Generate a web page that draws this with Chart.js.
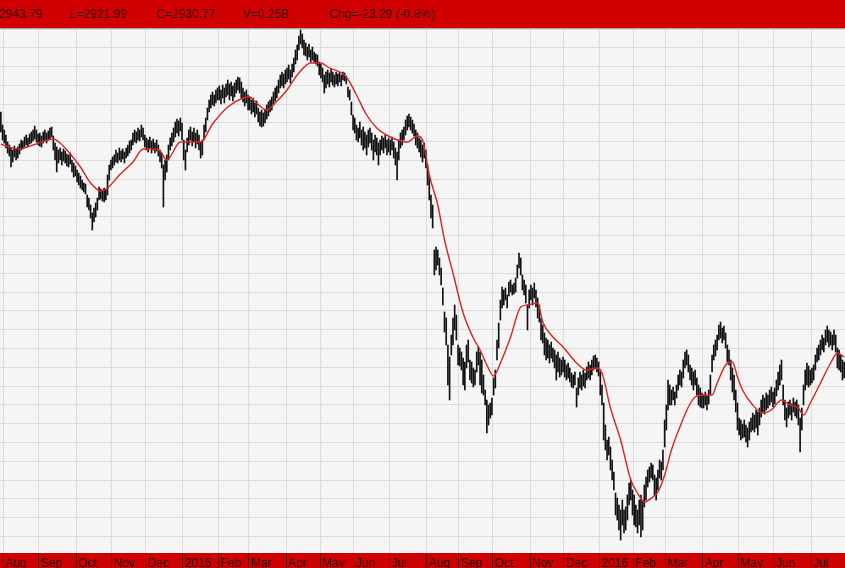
<!DOCTYPE html>
<html>
<head>
<meta charset="utf-8">
<script src="https://cdn.jsdelivr.net/npm/chart.js@4.4.1/dist/chart.umd.min.js"></script>
<style>
  body { margin: 0; overflow: hidden; background: #f5f5f5; font-family: "Liberation Sans", Arial, sans-serif; }
  #quote { width: 845px; height: 28px; background: #d00000; border-bottom: 1px solid #a8a8a8; overflow: hidden; white-space: nowrap; font-size: 12px; line-height: 29px; color: #3c0000; }
  #quote span { display: inline-block; width: 86.5px; }
  #quote span:first-child { margin-left: -17px; }
  #wrap { position: relative; width: 845px; height: 539px; background: #cc0000; }
</style>
</head>
<body>
<div id="quote"></div>
<div id="wrap"><canvas id="chart"></canvas></div>
<script>
const quoteLabels = ['H', 'L', 'C', 'V', 'Chg']
const quoteValues = ['2943.79', '2921.99', '2930.77', '0.25B', '-23.29 (-0.8%)']

// first trading day (bar index) of each month shown in the bottom band
const monthStarts = [2, 23, 45, 66, 86, 108, 129, 147, 169, 189, 209, 230, 252, 271, 291, 313, 333, 354, 374, 393, 415, 436, 457, 479]
const monthLabels = ['Aug', 'Sep', 'Oct', 'Nov', 'Dec', '2015', 'Feb', 'Mar', 'Apr', 'May', 'Jun', 'Jul',
  'Aug', 'Sep', 'Oct', 'Nov', 'Dec', '2016', 'Feb', 'Mar', 'Apr', 'May', 'Jun', 'Jul']

// daily highs, one line per month (Jul 2014 tail .. Jul 2016)
const highs = [
  3406, 3380,
  3370, 3360, 3346, 3340, 3334, 3330, 3338, 3332, 3336, 3342, 3350, 3348, 3356, 3360, 3354, 3362, 3366, 3370, 3378, 3370, 3362,
  3364, 3358, 3366, 3370, 3364, 3368, 3374, 3376, 3358, 3344, 3336, 3330, 3334, 3326, 3332, 3328, 3322, 3320, 3324, 3310, 3304, 3298,
  3290, 3284, 3278, 3270, 3264, 3262, 3240, 3234, 3220, 3204, 3214, 3224, 3234, 3256, 3252, 3250, 3254, 3250, 3280, 3300, 3310,
  3316, 3320, 3330, 3324, 3334, 3328, 3332, 3326, 3334, 3340, 3348, 3350, 3364, 3370, 3366, 3374, 3370, 3380, 3374, 3360,
  3354, 3350, 3356, 3348, 3352, 3344, 3350, 3340, 3330, 3324, 3300, 3310, 3320, 3340, 3354, 3364, 3374, 3386, 3392, 3388, 3394, 3384,
  3350, 3330, 3354, 3370, 3376, 3366, 3374, 3364, 3370, 3360, 3346, 3350, 3380, 3394, 3414, 3430, 3440, 3446, 3440, 3450, 3454,
  3458, 3450, 3460, 3454, 3462, 3470, 3462, 3466, 3458, 3464, 3470, 3476, 3474, 3466, 3454, 3446, 3450, 3440,
  3436, 3430, 3434, 3424, 3428, 3414, 3406, 3410, 3404, 3412, 3420, 3426, 3430, 3436, 3446, 3454, 3458, 3470, 3480, 3486, 3482, 3490,
  3494, 3500, 3490, 3502, 3514, 3530, 3540, 3558, 3570, 3562, 3550, 3544, 3536, 3542, 3530, 3536, 3526, 3522, 3520, 3506,
  3502, 3494, 3480, 3486, 3490, 3484, 3492, 3486, 3480, 3486, 3482, 3486, 3480, 3486, 3484, 3478, 3456, 3450, 3426, 3400,
  3394, 3380, 3374, 3386, 3370, 3376, 3366, 3360, 3370, 3374, 3364, 3350, 3360, 3354, 3344, 3350, 3358, 3354, 3360, 3350, 3354,
  3350, 3356, 3346, 3334, 3326, 3350, 3364, 3370, 3376, 3390, 3398, 3402, 3396, 3390, 3382, 3370, 3364, 3354, 3350, 3340, 3344, 3330,
  3300, 3280, 3240, 3220, 3130, 3136, 3130, 3114, 3094, 3054, 3006, 2994, 2940, 2916, 2960, 2994, 3020, 3000, 2940,
  2934, 2926, 2914, 2906, 2940, 2950, 2910, 2906, 2894, 2890, 2926, 2936, 2926, 2910, 2880, 2850, 2830, 2820, 2824, 2834,
  2874, 2890, 2950, 2984, 3030, 3056, 3050, 3054, 3040, 3066, 3070, 3060, 3064, 3074, 3100, 3124, 3114, 3080, 3070, 3060, 3020, 3050,
  3060, 3054, 3064, 3050, 3034, 3020, 2994, 2980, 2964, 2954, 2950, 2940, 2946, 2934, 2930, 2920, 2926, 2914, 2910, 2916,
  2910, 2900, 2904, 2894, 2884, 2880, 2886, 2854, 2874, 2886, 2880, 2890, 2884, 2896, 2906, 2900, 2910, 2918, 2920, 2914, 2906,
  2886, 2860, 2824, 2780, 2750, 2756, 2736, 2710, 2686, 2644, 2634, 2620, 2610, 2630, 2610, 2616, 2640, 2664, 2670, 2650,
  2640, 2620, 2610, 2630, 2640, 2630, 2660, 2676, 2690, 2696, 2704, 2700, 2680, 2674, 2690, 2710, 2706, 2730, 2790,
  2820, 2870, 2860, 2850, 2856, 2846, 2860, 2880, 2890, 2886, 2910, 2926, 2930, 2920, 2900, 2894, 2886, 2890, 2874, 2860, 2854, 2844,
  2840, 2846, 2838, 2850, 2880, 2920, 2940, 2950, 2960, 2980, 2986, 2974, 2978, 2964, 2940, 2930, 2910, 2894, 2880, 2850, 2824,
  2794, 2790, 2782, 2790, 2780, 2774, 2786, 2794, 2804, 2800, 2810, 2806, 2814, 2830, 2840, 2834, 2844, 2840, 2850, 2856, 2846,
  2854, 2870, 2886, 2900, 2910, 2860, 2830, 2814, 2826, 2830, 2822, 2834, 2826, 2830, 2820, 2794, 2814, 2860, 2890, 2904, 2898, 2890,
  2894, 2900, 2920, 2934, 2940, 2950, 2960, 2954, 2970, 2978, 2970, 2966, 2960, 2970, 2960, 2934, 2930, 2920, 2910, 2906
]

const lows = [
  3366, 3350,
  3344, 3334, 3324, 3318, 3296, 3306, 3316, 3310, 3314, 3322, 3330, 3332, 3336, 3340, 3336, 3342, 3344, 3348, 3352, 3346, 3340,
  3338, 3336, 3344, 3348, 3344, 3350, 3352, 3356, 3330, 3310, 3286, 3304, 3310, 3300, 3308, 3304, 3298, 3296, 3302, 3286, 3276, 3278,
  3266, 3260, 3254, 3250, 3246, 3242, 3216, 3210, 3194, 3170, 3186, 3196, 3210, 3230, 3232, 3228, 3226, 3230, 3240, 3270, 3290,
  3294, 3300, 3306, 3304, 3310, 3306, 3312, 3304, 3314, 3318, 3324, 3330, 3340, 3346, 3344, 3350, 3348, 3356, 3350, 3336,
  3330, 3326, 3334, 3324, 3330, 3324, 3328, 3318, 3306, 3294, 3216, 3270, 3286, 3310, 3330, 3338, 3346, 3356, 3364, 3358, 3368, 3350,
  3310, 3290, 3326, 3340, 3350, 3338, 3346, 3334, 3342, 3330, 3314, 3320, 3350, 3366, 3390, 3406, 3414, 3420, 3418, 3424, 3430,
  3430, 3422, 3434, 3424, 3436, 3440, 3430, 3438, 3428, 3436, 3444, 3450, 3444, 3434, 3426, 3418, 3424, 3410,
  3410, 3402, 3406, 3396, 3402, 3386, 3378, 3376, 3378, 3384, 3392, 3398, 3406, 3410, 3422, 3428, 3434, 3444, 3454, 3458, 3454, 3462,
  3466, 3472, 3464, 3476, 3486, 3502, 3510, 3530, 3542, 3534, 3520, 3518, 3510, 3516, 3506, 3510, 3506, 3502, 3498, 3480,
  3474, 3466, 3444, 3454, 3462, 3456, 3466, 3460, 3456, 3462, 3458, 3466, 3458, 3470, 3468, 3462, 3436, 3430, 3400, 3370,
  3364, 3350, 3346, 3354, 3340, 3330, 3334, 3320, 3336, 3344, 3330, 3310, 3326, 3320, 3300, 3320, 3330, 3324, 3334, 3320, 3326,
  3320, 3330, 3314, 3300, 3270, 3310, 3334, 3340, 3350, 3360, 3370, 3376, 3370, 3364, 3358, 3340, 3334, 3326, 3316, 3306, 3314, 3294,
  3260, 3230, 3194, 3174, 3080, 3090, 3100, 3080, 3060, 3020, 2966, 2940, 2860, 2830, 2920, 2940, 2970, 2950, 2900,
  2898, 2890, 2860, 2850, 2894, 2906, 2870, 2864, 2856, 2860, 2886, 2900, 2860, 2844, 2840, 2820, 2764, 2780, 2794, 2800,
  2840, 2854, 2910, 2934, 2990, 3014, 3020, 3030, 3014, 3038, 3046, 3040, 3042, 3046, 3074, 3094, 3080, 3050, 3040, 3024, 2970, 3014,
  3030, 3020, 3034, 3016, 2994, 2986, 2950, 2944, 2920, 2910, 2914, 2904, 2914, 2906, 2894, 2870, 2886, 2876, 2880, 2886,
  2876, 2870, 2874, 2866, 2856, 2854, 2860, 2816, 2840, 2854, 2850, 2858, 2854, 2870, 2874, 2870, 2880, 2890, 2894, 2886, 2878,
  2840, 2820, 2750, 2730, 2710, 2720, 2690, 2670, 2650, 2600, 2590, 2570, 2550, 2580, 2564, 2570, 2590, 2620, 2630, 2600,
  2580, 2576, 2564, 2580, 2556, 2570, 2616, 2630, 2656, 2666, 2674, 2670, 2640, 2630, 2650, 2674, 2670, 2690, 2736,
  2770, 2810, 2820, 2820, 2830, 2820, 2834, 2850, 2860, 2856, 2874, 2894, 2900, 2886, 2870, 2860, 2850, 2860, 2840, 2820, 2816, 2814,
  2814, 2820, 2810, 2822, 2840, 2886, 2910, 2918, 2930, 2950, 2954, 2944, 2950, 2934, 2906, 2900, 2870, 2846, 2830, 2806, 2770,
  2760, 2750, 2754, 2756, 2746, 2736, 2750, 2766, 2770, 2766, 2774, 2760, 2780, 2796, 2806, 2802, 2810, 2814, 2820, 2826, 2816,
  2822, 2838, 2850, 2860, 2870, 2820, 2790, 2776, 2794, 2800, 2790, 2806, 2798, 2794, 2780, 2726, 2770, 2820, 2850, 2860, 2856, 2860,
  2864, 2870, 2890, 2906, 2910, 2920, 2930, 2926, 2940, 2946, 2936, 2940, 2930, 2940, 2926, 2894, 2890, 2886, 2870, 2874
]

// moving average, read at these bar indices
const maDay = [0, 5, 11, 19, 31, 35, 39, 47, 53, 59, 63, 70, 78, 84, 89, 94, 98, 106, 118, 125,
  134, 143, 147, 151, 157, 162, 169, 175, 183, 189, 193, 204, 210, 216, 222, 230, 240, 246, 249, 253,
  258, 262, 267, 273, 279, 283, 287, 291, 295, 301, 307, 311, 317, 320, 326, 332, 340, 346, 352, 355,
  360, 366, 372, 376, 380, 385, 388, 392, 396, 401, 406, 410, 415, 420, 423, 428, 432, 435, 438, 444,
  450, 455, 461, 466, 471, 474, 478, 484, 490, 494, 498]
const maValues = [3342, 3336, 3332, 3340, 3352, 3344, 3330, 3296, 3264, 3248, 3254, 3280, 3306, 3332, 3332, 3328, 3310, 3346, 3346, 3382,
  3416, 3434, 3436, 3424, 3410, 3424, 3450, 3480, 3504, 3504, 3496, 3476, 3440, 3400, 3374, 3356, 3346, 3358, 3350, 3280,
  3220, 3150, 3084, 3004, 2954, 2930, 2900, 2878, 2904, 2956, 3016, 3020, 3024, 2986, 2956, 2936, 2904, 2890, 2894, 2884,
  2814, 2750, 2670, 2644, 2626, 2636, 2646, 2680, 2730, 2776, 2816, 2836, 2840, 2840, 2864, 2900, 2906, 2876, 2850, 2820,
  2804, 2810, 2830, 2820, 2814, 2800, 2824, 2864, 2904, 2924, 2916]

const quote = document.getElementById('quote')
quoteLabels.forEach((label, k) => {
  const span = document.createElement('span')
  span.textContent = label + '=' + quoteValues[k]
  quote.appendChild(span)
})

Chart.defaults.font.family = '"Liberation Sans", Arial, sans-serif'
Chart.defaults.font.size = 12

const yMin = 2524
const yMax = 3572
const gridStep = 37.6

const plotBackground = {
  id: 'plotBackground',
  beforeDraw (chart) {
    const { ctx, chartArea } = chart
    ctx.save()
    ctx.fillStyle = '#f5f5f5'
    ctx.fillRect(chartArea.left, chartArea.top, chartArea.right - chartArea.left, chartArea.bottom - chartArea.top)
    ctx.restore()
  }
}

new Chart(document.getElementById('chart'), {
  type: 'bar',
  data: {
    datasets: [{
      type: 'line',
      data: maDay.map((d, k) => ({ x: d, y: maValues[k] })),
      borderColor: '#dc2424',
      borderWidth: 1.4,
      pointRadius: 0,
      cubicInterpolationMode: 'monotone',
      order: 0
    }, {
      type: 'bar',
      data: highs.map((h, i) => ({ x: i, y: [lows[i], h] })),
      backgroundColor: '#111111',
      barThickness: 1,
      order: 1
    }]
  },
  options: {
    animation: false,
    responsive: true,
    maintainAspectRatio: false,
    events: [],
    layout: { padding: 0 },
    plugins: {
      legend: { display: false },
      tooltip: { enabled: false }
    },
    scales: {
      x: {
        type: 'linear',
        min: -0.5,
        max: highs.length - 0.5,
        offset: false,
        afterBuildTicks (scale) {
          scale.ticks = monthStarts.map(d => ({ value: d - 0.5 }))
        },
        afterFit (scale) {
          scale.height = 15
        },
        grid: {
          offset: false,
          color: '#dcdcdc',
          tickLength: 15,
          tickColor: '#700000'
        },
        border: { display: false },
        ticks: {
          autoSkip: false,
          maxRotation: 0,
          minRotation: 0,
          align: 'start',
          labelOffset: 2,
          padding: -12,
          color: '#300000',
          callback: (value, index) => monthLabels[index]
        }
      },
      y: {
        type: 'linear',
        min: yMin,
        max: yMax,
        afterBuildTicks (scale) {
          const ticks = []
          for (let v = yMax; v >= yMin; v -= gridStep) {
            ticks.push({ value: v })
          }
          scale.ticks = ticks.reverse()
        },
        afterFit (scale) {
          scale.width = 0
        },
        ticks: { display: false },
        grid: { color: '#dcdcdc', drawTicks: false },
        border: { display: false }
      }
    }
  },
  plugins: [plotBackground]
})
</script>
</body>
</html>
